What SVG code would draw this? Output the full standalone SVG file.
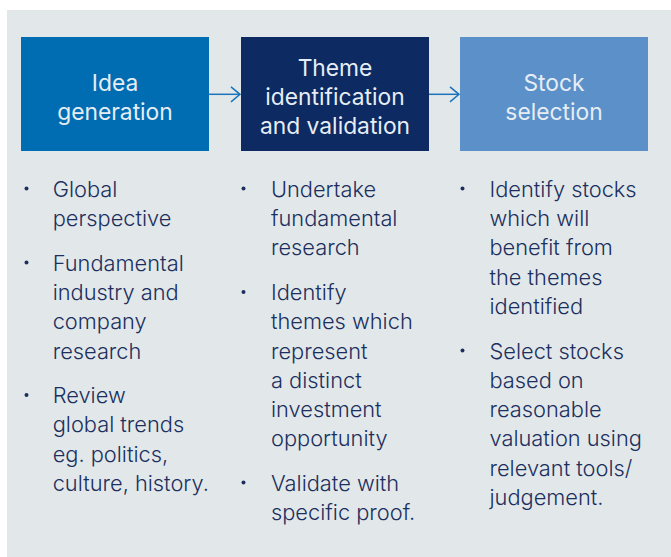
<svg xmlns="http://www.w3.org/2000/svg" width="671" height="557" viewBox="0 0 671 557">
<defs>
<style>
.hd{font-family:Inter,"Liberation Sans",sans-serif;font-size:22.8px;fill:#e6edf4;text-anchor:middle}
.bt{font-family:Inter,"Liberation Sans",sans-serif;font-size:21.8px;font-weight:300;fill:#1c2f5f}
.dot{fill:#1c2f5f}
.cn{stroke:#1a73bb;stroke-width:1.5;fill:none}
</style>
<marker id="ah" viewBox="0 0 12 18" refX="10.5" refY="9" markerWidth="12" markerHeight="18" markerUnits="userSpaceOnUse" orient="auto">
<path d="M1.5 1.5 L10.5 9 L1.5 16.5" fill="none" stroke="#1a73bb" stroke-width="1.5"/>
</marker>
</defs>
<rect x="7" y="10" width="664" height="547" fill="#e2e8e9"/>
<g id="connectors">
<line class="cn" x1="209" y1="94.3" x2="240" y2="94.3" marker-end="url(#ah)"/>
<line class="cn" x1="429" y1="94.3" x2="459" y2="94.3" marker-end="url(#ah)"/>
</g>
<g id="idea">
<rect x="21" y="37" width="188" height="114" fill="#006db3"/>
<text class="hd" x="115" y="90.7">Idea</text>
<text class="hd" x="115" y="119.5">generation</text>
</g>
<g id="theme">
<rect x="241" y="37" width="188" height="114" fill="#0d2a62"/>
<text class="hd" x="335" y="76">Theme</text>
<text class="hd" x="335" y="105">identification</text>
<text class="hd" x="335" y="133.5">and validation</text>
</g>
<g id="stock">
<rect x="460" y="37" width="188" height="114" fill="#5b90c9"/>
<text class="hd" x="554" y="90.7">Stock</text>
<text class="hd" x="554" y="119.5">selection</text>
</g>
<g id="idea-list">
<circle class="dot" cx="26.5" cy="188.5" r="2"/>
<circle class="dot" cx="26.5" cy="262.5" r="2"/>
<circle class="dot" cx="26.5" cy="395" r="2"/>
<text class="bt" x="52.7" y="196.7">Global</text>
<text class="bt" x="52.7" y="226">perspective</text>
<text class="bt" x="52.7" y="270.5">Fundamental</text>
<text class="bt" x="52.7" y="300">industry and</text>
<text class="bt" x="52.7" y="329">company</text>
<text class="bt" x="52.7" y="358.5">research</text>
<text class="bt" x="52.7" y="403">Review</text>
<text class="bt" x="52.7" y="432">global trends</text>
<text class="bt" x="52.7" y="461.5">eg. politics,</text>
<text class="bt" x="52.7" y="491">culture, history.</text>
</g>
<g id="theme-list">
<circle class="dot" cx="243.5" cy="188.5" r="2"/>
<circle class="dot" cx="243.5" cy="292" r="2"/>
<circle class="dot" cx="243.5" cy="482.5" r="2"/>
<text class="bt" x="271" y="196.7">Undertake</text>
<text class="bt" x="271" y="226">fundamental</text>
<text class="bt" x="271" y="255.3">research</text>
<text class="bt" x="271" y="300">Identify</text>
<text class="bt" x="271" y="329">themes which</text>
<text class="bt" x="271" y="358.5">represent</text>
<text class="bt" x="271" y="387.5">a distinct</text>
<text class="bt" x="271" y="417">investment</text>
<text class="bt" x="271" y="446">opportunity</text>
<text class="bt" x="271" y="490.8">Validate with</text>
<text class="bt" x="271" y="519.5">specific proof.</text>
</g>
<g id="stock-list">
<circle class="dot" cx="462.5" cy="188.5" r="2"/>
<circle class="dot" cx="462.5" cy="350.5" r="2"/>
<text class="bt" x="489.5" y="196.7">Identify stocks</text>
<text class="bt" x="489.5" y="226">which will</text>
<text class="bt" x="489.5" y="255.3">benefit from</text>
<text class="bt" x="489.5" y="284.6">the themes</text>
<text class="bt" x="489.5" y="314">identified</text>
<text class="bt" x="489.5" y="358.5">Select stocks</text>
<text class="bt" x="489.5" y="388">based on</text>
<text class="bt" x="489.5" y="417">reasonable</text>
<text class="bt" x="489.5" y="446.3">valuation using</text>
<text class="bt" x="489.5" y="475.6">relevant tools/</text>
<text class="bt" x="489.5" y="505">judgement.</text>
</g>
</svg>
